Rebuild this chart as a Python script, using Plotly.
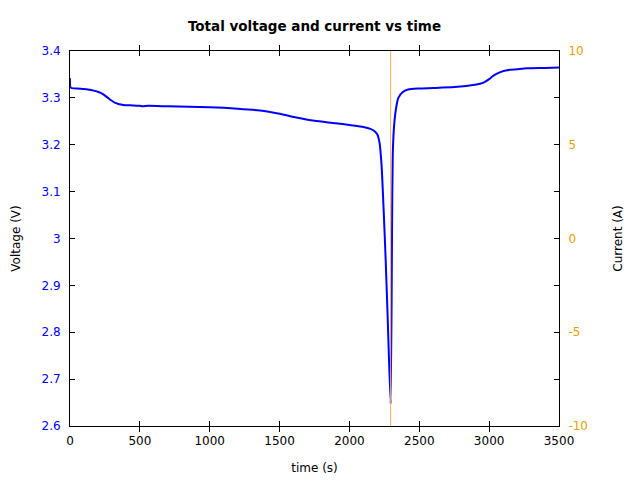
import plotly.graph_objects as go

time_v = [0, 5, 50, 100, 150, 200, 236, 280, 320, 380, 450, 500, 520, 560, 700, 1000, 1200, 1360, 1500, 1620, 1750, 1900, 2000, 2100, 2150, 2180, 2200, 2215, 2230, 2245, 2260, 2275, 2295,
          2305, 2310, 2320, 2335, 2350, 2380, 2420, 2500, 2600, 2750, 2900, 2956, 3000, 3028, 3080, 3128, 3200, 3270, 3400, 3500]
voltage = [3.342, 3.322, 3.320, 3.319, 3.317, 3.313, 3.308, 3.298, 3.290, 3.285, 3.284, 3.283, 3.282, 3.283, 3.282, 3.280, 3.277, 3.273, 3.266, 3.258, 3.251, 3.246, 3.242, 3.238, 3.234, 3.229, 3.222, 3.205, 3.157, 3.060, 2.950, 2.820, 2.647,
           3.018, 3.178, 3.242, 3.280, 3.300, 3.312, 3.318, 3.320, 3.321, 3.323, 3.328, 3.332, 3.340, 3.347, 3.355, 3.359, 3.361, 3.363, 3.364, 3.365]

time_i = [0, 2295, 2295, 3500]
current = [-20, -20, 20, 20]

x_ticks = [0, 500, 1000, 1500, 2000, 2500, 3000, 3500]
v_ticks = [2.6, 2.7, 2.8, 2.9, 3.0, 3.1, 3.2, 3.3, 3.4]
v_labels = ["2.6", "2.7", "2.8", "2.9", "3", "3.1", "3.2", "3.3", "3.4"]
i_ticks = [-10, -5, 0, 5, 10]
i_labels = ["-10", "-5", "0", "5", "10"]

BLUE = "#0000ff"
ORANGE = "#e8a000"

fig = go.Figure()
fig.add_trace(go.Scatter(x=time_i, y=current, yaxis="y2", mode="lines",
                         line=dict(color="#f5b04a", width=1), showlegend=False))
fig.add_trace(go.Scatter(x=time_v, y=voltage, mode="lines", line=dict(color=BLUE, width=2, shape="spline", smoothing=0.6),
                         showlegend=False))

tfont = dict(family="DejaVu Sans", size=12, color="black")
fig.update_layout(
    width=640, height=480,
    margin=dict(l=70, r=81, t=51, b=54),
    plot_bgcolor="white", paper_bgcolor="white",
    font=tfont,
    title=dict(text="<b>Total voltage and current vs time</b>", x=0.4914, xanchor="center", y=0.945, yanchor="middle",
               font=dict(family="DejaVu Sans", size=13.5, color="black")),
    xaxis=dict(range=[0, 3500], tickvals=x_ticks, ticks="inside", ticklen=5, tickcolor="black", ticklabelstandoff=4,
               showline=True, linecolor="black", linewidth=1, mirror="allticks", showgrid=False, zeroline=False,
               automargin=False,
               title=dict(text="time (s)", standoff=16, font=tfont), tickfont=dict(color="black", size=12)),
    yaxis=dict(range=[2.6, 3.4], tickvals=v_ticks, ticktext=v_labels, ticks="inside", ticklen=5, tickcolor="black",
               ticklabelstandoff=6, automargin=False,
               showline=True, linecolor="black", linewidth=1, mirror="allticks", showgrid=False, zeroline=False,
               title=dict(text="Voltage (V)", standoff=18, font=tfont), tickfont=dict(color=BLUE, size=12)),
    yaxis2=dict(range=[-10, 10], tickvals=i_ticks, ticktext=i_labels, ticks="inside", ticklen=5, tickcolor="black",
                ticklabelstandoff=6, automargin=False,
                overlaying="y", side="right", showline=True, linecolor="black", linewidth=1,
                showgrid=False, zeroline=False,
                title=dict(text="Current (A)", standoff=26, font=tfont), tickfont=dict(color=ORANGE, size=12)),
)
fig.write_html("out.html")
